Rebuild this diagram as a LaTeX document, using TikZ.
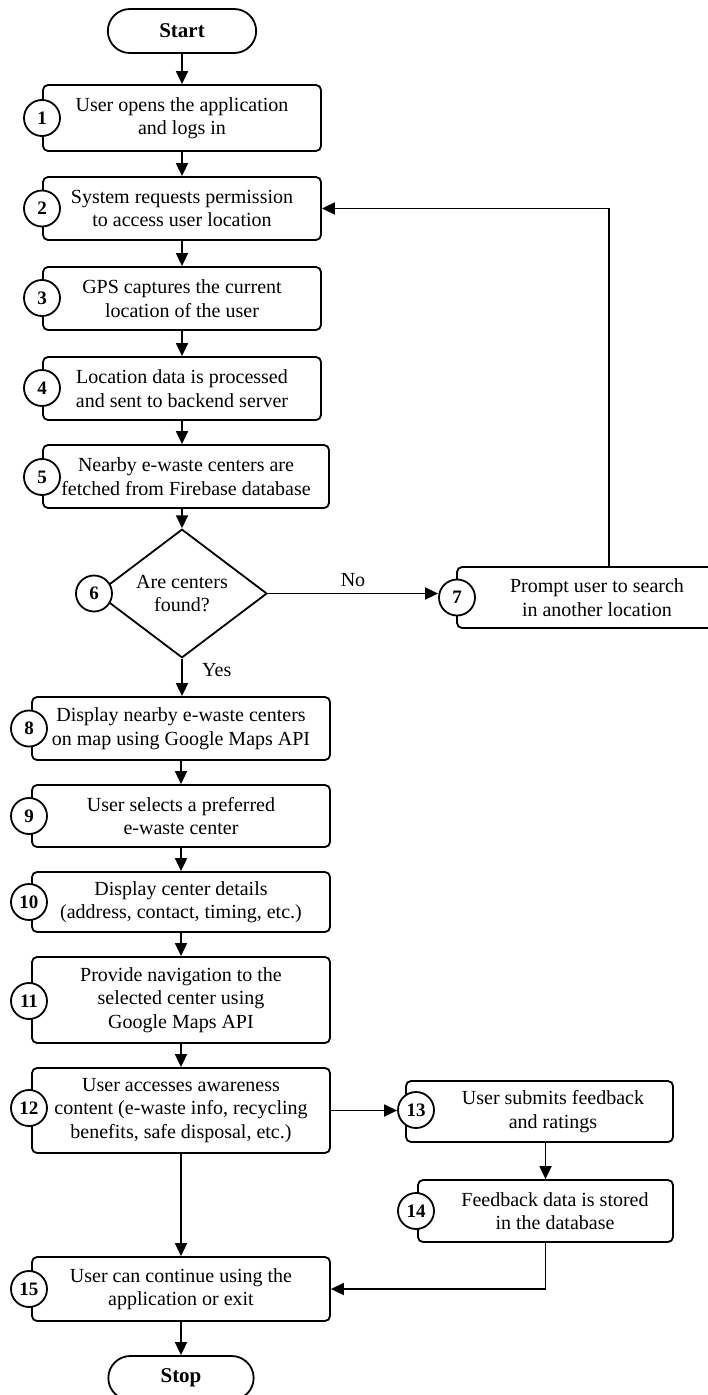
\documentclass[tikz,border=0pt]{standalone}
\usepackage{fontspec}
\setmainfont{Liberation Serif}
\usetikzlibrary{shapes.geometric,shapes.misc,arrows.meta,calc}
\begin{document}
\begin{tikzpicture}[x=1pt,y=-1pt,
  every node/.style={font=\fontsize{20}{23.5}\selectfont},
  box/.style={draw,line width=1.8pt,rounded corners=5pt,align=center,inner sep=0pt,fill=white},
  dia/.style={draw,line width=1.8pt,diamond,align=center,inner sep=0pt,fill=white},
  term/.style={draw,line width=1.8pt,rounded rectangle,minimum height=44pt,minimum width=155pt,font=\fontsize{21}{24}\selectfont\bfseries},
  num/.style={draw,circle,fill=white,line width=1.8pt,minimum size=36pt,inner sep=0pt,font=\fontsize{19}{20}\selectfont\bfseries},
  arr/.style={line width=1.8pt,-{Triangle[length=13pt,width=12pt]}},
  lbl/.style={font=\fontsize{20}{23.5}\selectfont}
]
\useasboundingbox (0,0) rectangle (708,1395);
\fill[white] (0,0) rectangle (708,1395);

\node[term] (start) at (182,31) {Start};
\node[box,minimum width=278pt,minimum height=66pt] (b1) at (182,118) {User opens the application\\and logs in};
\node[box,minimum width=278pt,minimum height=63pt] (b2) at (182,208.5) {System requests permission\\to access user location};
\node[box,minimum width=278pt,minimum height=63pt] (b3) at (182,298.5) {GPS captures the current\\location of the user};
\node[box,minimum width=278pt,minimum height=63pt] (b4) at (182,388.5) {Location data is processed\\and sent to backend server};
\node[box,minimum width=286pt,minimum height=63pt] (b5) at (186,476.5) {Nearby e-waste centers are\\fetched from Firebase database};
\node[dia,minimum width=170pt,minimum height=125pt] (d6) at (182,593.5) {Are centers\\found?};
\node[box,minimum width=280pt,minimum height=61pt] (b7) at (597,597.5) {Prompt user to search\\in another location};
\node[box,minimum width=298pt,minimum height=63pt] (b8) at (181,728.5) {Display nearby e-waste centers\\on map using Google Maps API};
\node[box,minimum width=298pt,minimum height=62pt] (b9) at (181,816) {User selects a preferred\\e-waste center};
\node[box,minimum width=298pt,minimum height=60pt] (b10) at (181,902) {Display center details\\(address, contact, timing, etc.)};
\node[box,minimum width=298pt,minimum height=86pt] (b11) at (181,1000) {Provide navigation to the\\selected center using\\Google Maps API};
\node[box,minimum width=298pt,minimum height=85pt] (b12) at (181,1110.5) {User accesses awareness\\content (e-waste info, recycling\\benefits, safe disposal, etc.)};
\node[box,minimum width=267pt,minimum height=61pt] (b13) at (539.5,1111.5) {};
\node[lbl,align=center] (t13) at (553,1111.5) {User submits feedback\\and ratings};
\node[box,minimum width=255pt,minimum height=62pt] (b14) at (545.5,1211) {};
\node[lbl,align=center] (t14) at (555,1211) {Feedback data is stored\\in the database};
\node[box,minimum width=298pt,minimum height=64pt] (b15) at (181,1289) {User can continue using the\\application or exit};
\node[term,minimum width=152pt] (stop) at (181,1378) {Stop};

\node[num] (c1) at (42,118) {1};
\node[num] (c2) at (42,208.5) {2};
\node[num] (c3) at (42,298) {3};
\node[num] (c4) at (42,388) {4};
\node[num] (c5) at (42,477) {5};
\node[num] (c6) at (94,593.5) {6};
\node[num] (c7) at (457,597.5) {7};
\node[num] (c8) at (29,728.5) {8};
\node[num] (c9) at (29,816) {9};
\node[num] (c10) at (29,902) {10};
\node[num] (c11) at (29,1001) {11};
\node[num] (c12) at (29,1108) {12};
\node[num] (c13) at (416,1110) {13};
\node[num] (c14) at (416,1211) {14};
\node[num] (c15) at (29,1289) {15};

\coordinate (j7) at ($(b7.north)+(12,0)$);

\draw[arr] (start) -- (b1);
\draw[arr] (b1) -- (b2);
\draw[arr] (b2) -- (b3);
\draw[arr] (b3) -- (b4);
\draw[arr] (b4.south) -- (b4.south |- b5.north);
\draw[arr] (b5.south -| d6.north) -- (d6.north);
\draw[arr] (d6.east) -- (d6.east -| c7.west) node[midway,above=3pt,lbl] {No};
\draw[arr] (j7) |- (b2.east);
\draw[arr] (d6.south) -- (d6.south |- b8.north) node[pos=0.3,anchor=west,xshift=16pt,lbl] {Yes};
\draw[arr] (b8) -- (b9);
\draw[arr] (b9) -- (b10);
\draw[arr] (b10) -- (b11);
\draw[arr] (b11) -- (b12);
\draw[arr] (b12.east) -- (b12.east -| c13.west);
\draw[arr] (b13.south -| b14.north) -- (b14.north);
\draw[arr] (b14.south) |- (b15.east);
\draw[arr] (b12) -- (b15);
\draw[arr] (b15) -- (stop);
\end{tikzpicture}
\end{document}
